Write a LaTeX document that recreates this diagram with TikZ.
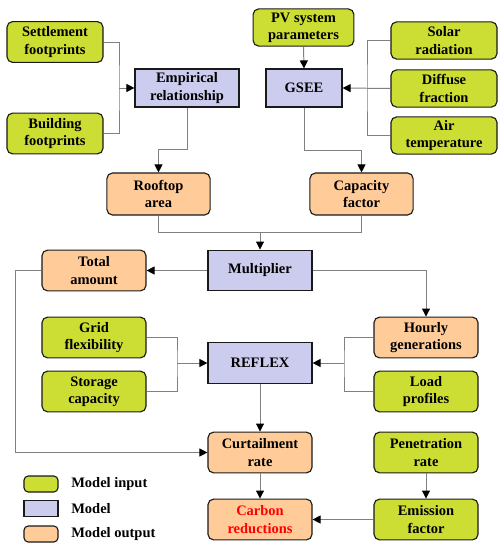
\documentclass[tikz,border=0pt]{standalone}
\usepackage{fontspec}
\setmainfont{Liberation Serif}
\usetikzlibrary{arrows.meta, positioning}
\definecolor{cinput}{HTML}{CCDD33}
\definecolor{cmodel}{HTML}{CCCCEE}
\definecolor{coutput}{HTML}{FFCC99}
\definecolor{cline}{HTML}{808080}
\definecolor{cborder}{HTML}{1A1A1A}
\tikzset{
  every picture/.style={font=\fontsize{10.3}{12.3}\selectfont\bfseries},
  box/.style={draw=cborder, fill=#1, line width=0.8pt, rounded corners=4pt, align=center,
              inner sep=2pt, minimum width=2.6cm, minimum height=1.02cm},
  box/.default=cinput,
  inbox/.style={box=cinput},
  outbox/.style={box=coutput},
  modelbox/.style={box=cmodel, rounded corners=0pt},
  link/.style={draw=cline, line width=0.7pt},
  arrow/.style={link, -{Triangle[length=2mm, width=2mm, black]}},
  legbox/.style={draw=cborder, fill=#1, line width=0.8pt, rounded corners=3pt,
                 minimum width=0.85cm, minimum height=0.4cm, inner sep=0pt},
  legtext/.style={anchor=west, inner sep=0pt},
}
\begin{document}
\begin{tikzpicture}[x=0.025cm, y=-0.025cm]
  \useasboundingbox (0,0) rectangle (503,550);
  % inputs, models and outputs
  \node[inbox, minimum width=2.4cm] (settle) at (55,42) {Settlement\\footprints};
  \node[inbox, minimum width=2.4cm] (build) at (55,133.5) {Building\\footprints};
  \node[modelbox, minimum height=0.95cm] (emp) at (187,88) {Empirical\\relationship};
  \node[inbox, minimum width=2.52cm, minimum height=0.93cm] (pv) at (303.5,27.5) {PV system\\parameters};
  \node[modelbox, minimum width=1.9cm, minimum height=0.95cm] (gsee) at (304,88) {GSEE};
  \node[inbox, minimum width=2.65cm, minimum height=0.93cm] (solar) at (444,40.5) {Solar\\radiation};
  \node[inbox, minimum width=2.65cm, minimum height=0.93cm] (diff) at (444,88.5) {Diffuse\\fraction};
  \node[inbox, minimum width=2.65cm, minimum height=0.93cm] (air) at (444,135.5) {Air\\temperature};
  \node[outbox, minimum width=2.58cm, minimum height=1.05cm] (roof) at (158.5,194) {Rooftop\\area};
  \node[outbox, minimum width=2.58cm, minimum height=1.05cm] (cap) at (361.5,194) {Capacity\\factor};
  \node[modelbox] (mult) at (260,270.5) {Multiplier};
  \node[outbox] (total) at (94,270.5) {Total\\amount};
  \node[inbox] (grid) at (94,337.5) {Grid\\flexibility};
  \node[inbox] (stor) at (94,391.5) {Storage\\capacity};
  \node[modelbox] (reflex) at (260,363) {REFLEX};
  \node[outbox] (hourly) at (426,337.5) {Hourly\\generations};
  \node[inbox] (load) at (426,391.5) {Load\\profiles};
  \node[outbox] (curt) at (260,452.5) {Curtailment\\rate};
  \node[inbox] (pen) at (426,452.5) {Penetration\\rate};
  \node[outbox, text=red] (carbon) at (260,519.5) {Carbon\\reductions};
  \node[inbox] (emis) at (426,519.5) {Emission\\factor};
  % connectors
  \coordinate (jl) at (119,88);
  \draw[link] (settle.east) -| (jl) |- (build.east);
  \draw[arrow] (jl) -- (emp.west);
  \draw[arrow] (emp.south) -- ++(0,42) -| (roof.north);
  \draw[arrow] (pv.south) -- (gsee.north);
  \coordinate (jr) at (367,88);
  \draw[link] (solar.west) -| (jr) |- (air.west);
  \draw[arrow] (diff.west) -- (gsee.east);
  \draw[arrow] (gsee.south) -- ++(0,43) -| (cap.north);
  \coordinate (jm) at (260,232);
  \draw[link] (roof.south) |- (jm);
  \draw[link] (cap.south) |- (jm);
  \draw[arrow] (jm) -- (mult.north);
  \draw[arrow] (mult.west) -- (total.east);
  \draw[arrow] (mult.east) -| (hourly.north);
  \coordinate (jg) at (177,363);
  \draw[link] (grid.east) -| (jg) |- (stor.east);
  \draw[arrow] (jg) -- (reflex.west);
  \coordinate (jh) at (344,363);
  \draw[link] (hourly.west) -| (jh) |- (load.west);
  \draw[arrow] (jh) -- (reflex.east);
  \draw[arrow] (reflex.south) -- (curt.north);
  \draw[arrow] (total.west) -- ++(-26,0) |- (curt.west);
  \draw[arrow] (curt.south) -- (carbon.north);
  \draw[arrow] (pen.south) -- (emis.north);
  \draw[arrow] (emis.west) -- (carbon.east);
  % legend
  \node[legbox=cinput] (lin) at (41,484) {};
  \node[legbox=cmodel, rounded corners=0pt] (lmod) at (41,508.5) {};
  \node[legbox=coutput] (lout) at (41,534) {};
  \node[legtext] at (71,484) {Model input};
  \node[legtext] at (71,508.5) {Model};
  \node[legtext] at (71,534) {Model output};
\end{tikzpicture}
\end{document}
